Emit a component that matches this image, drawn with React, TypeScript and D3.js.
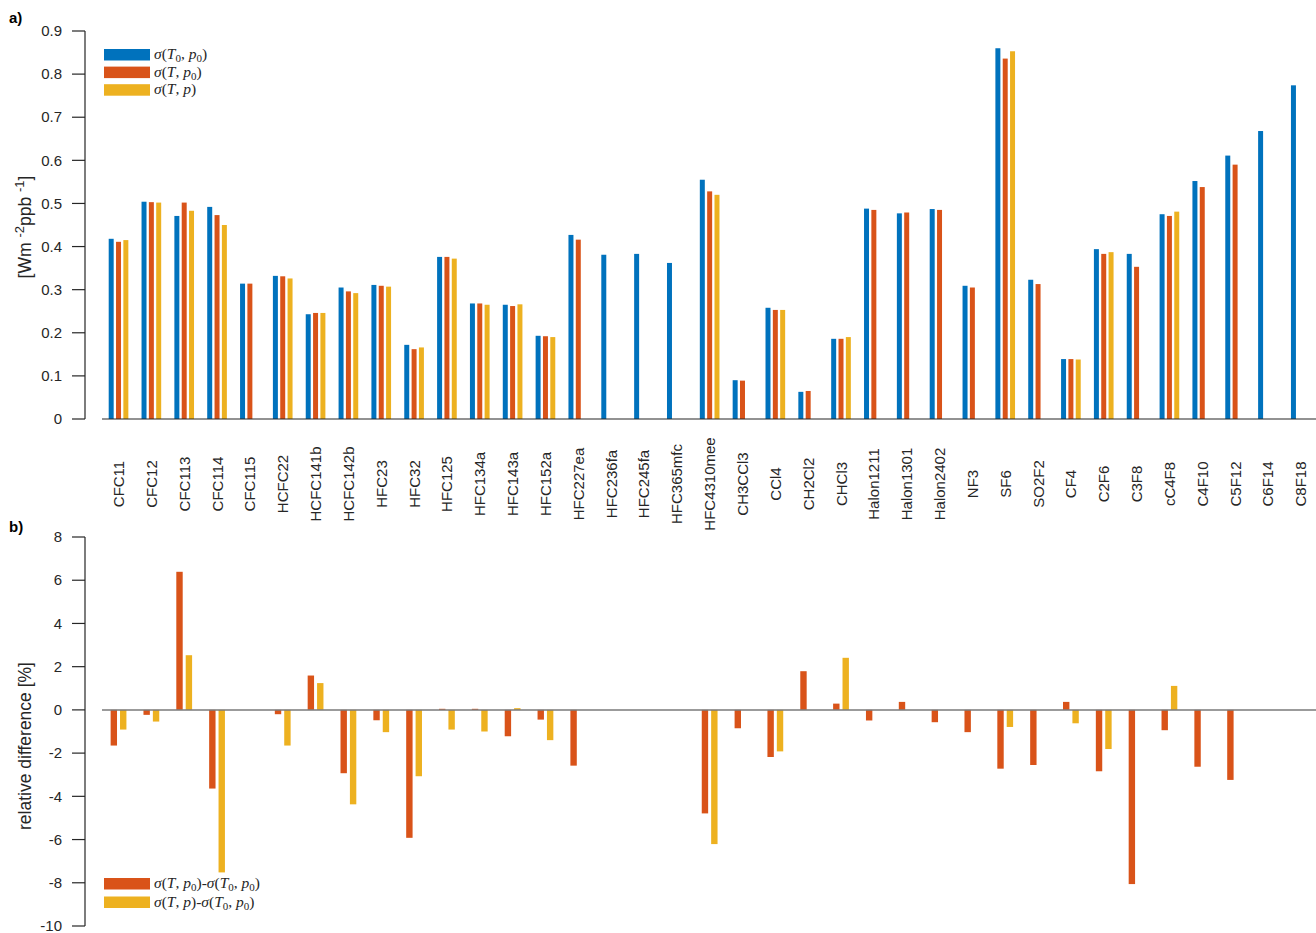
import React from 'react';
import * as d3 from 'd3';

// gas names along the x axis
const gases = [
  'CFC11', 'CFC12', 'CFC113', 'CFC114', 'CFC115', 'HCFC22', 'HCFC141b', 'HCFC142b',
  'HFC23', 'HFC32', 'HFC125', 'HFC134a', 'HFC143a', 'HFC152a', 'HFC227ea', 'HFC236fa',
  'HFC245fa', 'HFC365mfc', 'HFC4310mee', 'CH3CCl3', 'CCl4', 'CH2Cl2', 'CHCl3',
  'Halon1211', 'Halon1301', 'Halon2402', 'NF3', 'SF6', 'SO2F2', 'CF4', 'C2F6', 'C3F8',
  'cC4F8', 'C4F10', 'C5F12', 'C6F14', 'C8F18',
];

// radiative efficiency [W m-2 ppb-1]
const sigmaT0p0 = [
  0.418, 0.504, 0.471, 0.492, 0.314, 0.332, 0.243, 0.305, 0.311, 0.172, 0.376, 0.268,
  0.265, 0.193, 0.427, 0.381, 0.383, 0.362, 0.555, 0.090, 0.258, 0.063, 0.186, 0.488,
  0.477, 0.487, 0.309, 0.860, 0.323, 0.139, 0.394, 0.383, 0.475, 0.552, 0.611, 0.668, 0.774,
];
const sigmaTp0 = [
  0.411, 0.503, 0.502, 0.473, 0.314, 0.331, 0.246, 0.296, 0.309, 0.162, 0.376, 0.268,
  0.262, 0.192, 0.416, null, null, null, 0.528, 0.089, 0.253, 0.065, 0.186, 0.485,
  0.479, 0.485, 0.305, 0.836, 0.313, 0.139, 0.383, 0.353, 0.471, 0.538, 0.590, null, null,
];
const sigmaTp = [
  0.415, 0.502, 0.483, 0.450, null, 0.326, 0.246, 0.292, 0.307, 0.166, 0.372, 0.265,
  0.266, 0.190, null, null, null, null, 0.520, null, 0.253, null, 0.190, null,
  null, null, null, 0.853, null, 0.138, 0.387, null, 0.481, null, null, null, null,
];

// relative differences [%]
const diffTp0 = [
  -1.65, -0.23, 6.39, -3.64, null, -0.2, 1.59, -2.93, -0.48, -5.92, 0.05, 0.05,
  -1.22, -0.45, -2.58, null, null, null, -4.79, -0.85, -2.18, 1.79, 0.29, -0.49,
  0.37, -0.57, -1.03, -2.72, -2.55, 0.37, -2.84, -8.06, -0.94, -2.63, -3.24, null, null,
];
const diffTp = [
  -0.91, -0.54, 2.53, -7.52, null, -1.65, 1.24, -4.37, -1.03, -3.07, -0.91, -1.0,
  0.08, -1.4, null, null, null, null, -6.21, null, -1.92, null, 2.41, null,
  null, null, null, -0.79, null, -0.62, -1.81, null, 1.11, null, null, null, null,
];

const topTicks = [0, 0.1, 0.2, 0.3, 0.4, 0.5, 0.6, 0.7, 0.8, 0.9];
const bottomTicks = [-10, -8, -6, -4, -2, 0, 2, 4, 6, 8];

const blue = '#0072BD';
const orange = '#D95319';
const yellow = '#EDB120';
const sans = '"Liberation Sans", Arial, Helvetica, sans-serif';
const serif = '"Liberation Serif", "Times New Roman", serif';

const Sub = ({ t }: { t: string }) => (
  <tspan fontStyle="normal" fontSize="11" dy="3">{t}</tspan>
);

// σ(T0,p0) etc. written like the LaTeX legend
const Sigma = ({ T0, p0 }: { T0: boolean; p0: boolean }) => (
  <>
    <tspan fontStyle="italic">σ</tspan>
    <tspan>(</tspan>
    <tspan fontStyle="italic">T</tspan>
    {T0 ? <Sub t="0" /> : null}
    <tspan dy={T0 ? -3 : 0}>, </tspan>
    <tspan fontStyle="italic">p</tspan>
    {p0 ? <Sub t="0" /> : null}
    <tspan dy={p0 ? -3 : 0}>)</tspan>
  </>
);

export default function App() {
  const width = 1316;
  const height = 933;
  const axisX = 85;

  const x = d3.scaleBand().domain(gases).range([102.1, 1317.2]);
  const cx = (g: string) => (x(g) as number) + x.bandwidth() / 2;

  const inner3 = d3.scaleBand().domain(['a', 'b', 'c']).range([-11, 11]).paddingInner(0.32).paddingOuter(0.16);
  const inner2 = d3.scaleBand().domain(['b', 'c']).range([-9.4, 9.4]).paddingInner(0.32).paddingOuter(0.16);

  const yTop = d3.scaleLinear().domain([0, 0.9]).range([419, 31]);
  const yBot = d3.scaleLinear().domain([-10, 8]).range([926, 537]);

  const topSeries = [
    { key: 'a', values: sigmaT0p0, color: blue },
    { key: 'b', values: sigmaTp0, color: orange },
    { key: 'c', values: sigmaTp, color: yellow },
  ];
  const botSeries = [
    { key: 'b', values: diffTp0, color: orange },
    { key: 'c', values: diffTp, color: yellow },
  ];

  return (
    <svg width={width} height={height} style={{ position: 'absolute', left: 0, top: 0, background: '#fff' }}>
      {/* panel a */}
      <text x={9} y={23} fontFamily={sans} fontWeight="bold" fontSize={15}>a)</text>
      <line x1={axisX} x2={axisX} y1={yTop(0.9)} y2={yTop(0)} stroke="#262626" strokeWidth={1.2} />
      {topTicks.map((t) => (
        <g key={t}>
          <line x1={axisX - 13} x2={axisX} y1={yTop(t)} y2={yTop(t)} stroke="#262626" strokeWidth={1.2} />
          <text x={62} y={yTop(t)} dy="0.35em" textAnchor="end" fontFamily={sans} fontSize={15} fill="#262626">
            {t === 0 ? '0' : d3.format('.1f')(t)}
          </text>
        </g>
      ))}
      <text transform="translate(31,227) rotate(-90)" textAnchor="middle" fontFamily={sans} fontSize={17.5} fill="#262626">
        [Wm <tspan baselineShift="super" fontSize={13}>-2</tspan>ppb <tspan baselineShift="super" fontSize={13}>-1</tspan>]
      </text>

      {topSeries.map((s) =>
        s.values.map((v, i) =>
          v == null ? null : (
            <rect
              key={s.key + i}
              x={cx(gases[i]) + (inner3(s.key) as number)}
              width={inner3.bandwidth()}
              y={yTop(v)}
              height={yTop(0) - yTop(v)}
              fill={s.color}
            />
          )
        )
      )}
      <line x1={102} x2={width} y1={yTop(0)} y2={yTop(0)} stroke="#262626" strokeWidth={1.2} />

      {gases.map((g) => (
        <text key={g} transform={`translate(${cx(g) + 5.5},484) rotate(-90)`} textAnchor="middle"
          fontFamily={sans} fontSize={15} fill="#262626">
          {g}
        </text>
      ))}

      {/* legend a */}
      {topSeries.map((s, i) => (
        <g key={s.key} transform={`translate(104,${49 + i * 17.6})`}>
          <rect width={46} height={11.5} fill={s.color} />
          <text x={50} y={10} fontFamily={serif} fontSize={15.5} fill="#262626">
            <Sigma T0={i === 0} p0={i < 2} />
          </text>
        </g>
      ))}

      {/* panel b */}
      <text x={9} y={532} fontFamily={sans} fontWeight="bold" fontSize={15}>b)</text>
      <line x1={axisX} x2={axisX} y1={yBot(8)} y2={yBot(-10)} stroke="#262626" strokeWidth={1.2} />
      {bottomTicks.map((t) => (
        <g key={t}>
          <line x1={axisX - 13} x2={axisX} y1={yBot(t)} y2={yBot(t)} stroke="#262626" strokeWidth={1.2} />
          <text x={62} y={yBot(t)} dy="0.35em" textAnchor="end" fontFamily={sans} fontSize={15} fill="#262626">
            {t}
          </text>
        </g>
      ))}
      <text transform="translate(31,746) rotate(-90)" textAnchor="middle" fontFamily={sans} fontSize={17.5} fill="#262626">
        relative difference [%]
      </text>

      {botSeries.map((s) =>
        s.values.map((v, i) =>
          v == null ? null : (
            <rect
              key={s.key + i}
              x={cx(gases[i]) + (inner2(s.key) as number)}
              width={inner2.bandwidth()}
              y={yBot(Math.max(v, 0))}
              height={Math.abs(yBot(v) - yBot(0))}
              fill={s.color}
            />
          )
        )
      )}
      <line x1={102} x2={width} y1={yBot(0)} y2={yBot(0)} stroke="#7a7a7a" strokeWidth={1.5} />

      {/* legend b */}
      {botSeries.map((s, i) => (
        <g key={s.key} transform={`translate(104,${878 + i * 18.5})`}>
          <rect width={46} height={11.5} fill={s.color} />
          <text x={50} y={10} fontFamily={serif} fontSize={15.5} fill="#262626">
            <Sigma T0={false} p0={i === 0} />
            <tspan>-</tspan>
            <Sigma T0={true} p0={true} />
          </text>
        </g>
      ))}
    </svg>
  );
}
